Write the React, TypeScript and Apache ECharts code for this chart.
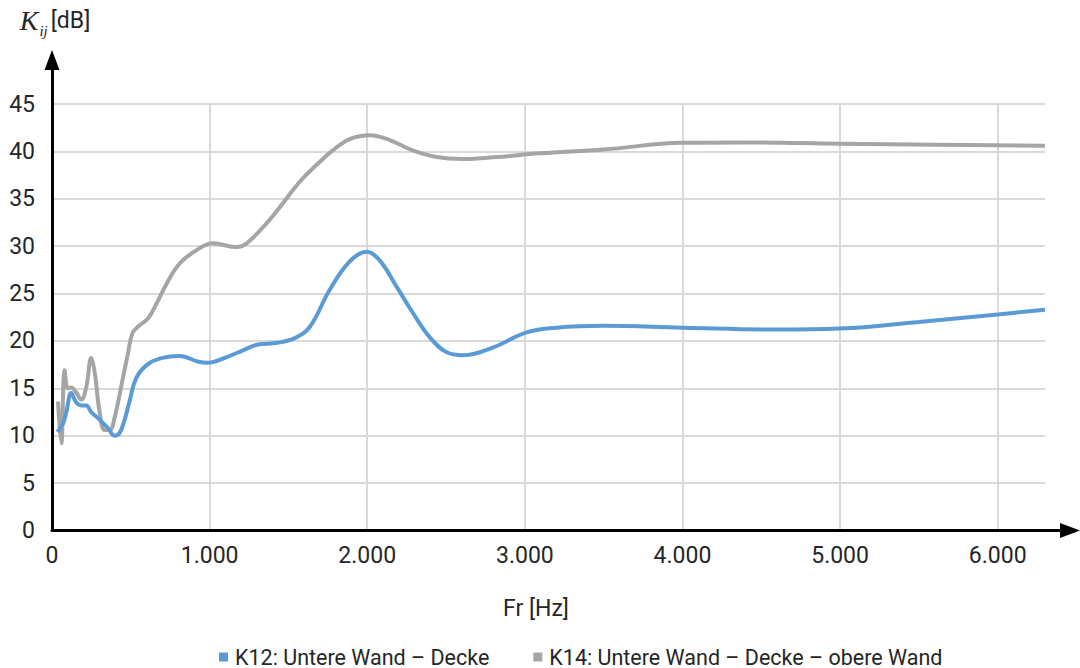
import React, { useEffect, useRef } from "react";
import * as echarts from "echarts";

// K12: Untere Wand – Decke
const k12Hz = [34, 70, 91, 122, 154, 186, 217, 249, 302, 355, 397, 429, 461, 490, 538, 621, 729, 811, 930, 990, 1109, 1211, 1300, 1430, 1540, 1636, 1762, 1889, 1997, 2079, 2187, 2288, 2396, 2504, 2605, 2796, 3011, 3200, 3500, 4000, 4600, 5000, 5500, 6000, 6300];
const k12Db = [10.4, 11.3, 12.5, 14.5, 13.5, 13.2, 13.2, 12.5, 11.7, 10.8, 10.0, 10.3, 11.7, 13.5, 16.2, 17.7, 18.3, 18.4, 17.8, 17.7, 18.3, 19.0, 19.6, 19.8, 20.3, 21.5, 25.4, 28.4, 29.4, 28.5, 25.7, 23.0, 20.4, 18.8, 18.5, 19.3, 20.9, 21.4, 21.6, 21.4, 21.2, 21.3, 22.0, 22.8, 23.3];

// K14: Untere Wand – Decke – obere Wand
const k14Hz = [38, 59, 80, 101, 122, 152, 186, 217, 249, 271, 302, 334, 366, 397, 450, 482, 510, 545, 610, 665, 729, 811, 919, 1021, 1173, 1236, 1382, 1445, 1572, 1680, 1781, 1889, 2016, 2143, 2288, 2441, 2605, 2821, 3093, 3500, 4000, 4400, 5000, 5600, 6300];
const k14Db = [13.6, 9.2, 16.9, 15.0, 15.1, 14.6, 13.8, 15.1, 18.2, 16.7, 12.5, 10.6, 10.6, 11.9, 16.1, 18.7, 20.8, 21.5, 22.4, 24.0, 26.1, 28.2, 29.6, 30.3, 29.9, 30.3, 32.8, 34.1, 36.8, 38.6, 40.1, 41.3, 41.7, 41.2, 40.1, 39.4, 39.2, 39.4, 39.8, 40.2, 40.9, 40.95, 40.8, 40.7, 40.6];

const seriesNames = ["K12: Untere Wand – Decke", "K14: Untere Wand – Decke – obere Wand"];
const seriesColors = ["#5b9bd5", "#a5a5a5"];

const xMax = 6300;
const xInterval = 1000;
const yMax = 45;
const yInterval = 5;
const xAxisTitle = "Fr [Hz]";

const FONT = "Roboto";
const TEXT = "#262626";

function fmtThousands(v: number): string {
  return String(v).replace(/\B(?=(\d{3})+(?!\d))/g, ".");
}

export default function App() {
  const ref = useRef<HTMLDivElement>(null);
  useEffect(() => {
    if (!ref.current) return;
    const chart = echarts.init(ref.current, undefined, { renderer: "svg" });
    const zip = (xs: number[], ys: number[]) => xs.map((x, i) => [x, ys[i]]);
    chart.setOption({
      animation: false,
      backgroundColor: "#ffffff",
      textStyle: { fontFamily: FONT, color: TEXT },
      grid: [
        { left: 52, top: 104, right: 35, bottom: 137.5 },
        { left: 52, top: 60, right: 10, bottom: 137.5 },
      ],
      legend: {
        left: 214,
        top: 640,
        icon: "rect",
        itemWidth: 9,
        itemHeight: 9,
        itemGap: 44,
        textStyle: { fontFamily: FONT, fontSize: 21.5, lineHeight: 24, color: TEXT, padding: [0, 0, 0, 2] },
        data: seriesNames,
      },
      xAxis: [
        {
          type: "value",
          gridIndex: 0,
          min: 0,
          max: xMax,
          interval: xInterval,
          axisLine: { show: false },
          axisTick: { show: false },
          axisLabel: {
            fontFamily: FONT,
            fontSize: 23,
            color: TEXT,
            margin: 13,
            showMaxLabel: false,
            formatter: (v: number) => (v > 6000 ? "" : fmtThousands(v)),
          },
          splitLine: {
            show: true,
            showMinLine: false,
            showMaxLine: false,
            lineStyle: { color: "#d9d9d9", width: 2 },
          },
          name: xAxisTitle,
          nameLocation: "middle",
          nameGap: 66,
          nameTextStyle: { fontFamily: FONT, fontSize: 23, color: TEXT, padding: [0, 25, 0, 0] },
        },
        {
          type: "value",
          gridIndex: 1,
          min: 0,
          max: 1,
          axisLine: {
            show: true,
            symbol: ["none", "triangle"],
            symbolSize: [15, 20],
            lineStyle: { color: "#000000", width: 3 },
          },
          axisTick: { show: false },
          axisLabel: { show: false },
          splitLine: { show: false },
        },
      ],
      yAxis: [
        {
          type: "value",
          gridIndex: 0,
          min: 0,
          max: yMax,
          interval: yInterval,
          axisLine: { show: false },
          axisTick: { show: false },
          axisLabel: { fontFamily: FONT, fontSize: 23, color: TEXT, margin: 17 },
          splitLine: {
            show: true,
            showMinLine: false,
            lineStyle: { color: "#d9d9d9", width: 2 },
          },
        },
        {
          type: "value",
          gridIndex: 1,
          min: 0,
          max: 1,
          axisLine: {
            show: true,
            symbol: ["none", "triangle"],
            symbolSize: [15, 20],
            lineStyle: { color: "#000000", width: 3 },
          },
          axisTick: { show: false },
          axisLabel: { show: false },
          splitLine: { show: false },
          name: "{k|K}{s|ij}{u|[dB]}",
          nameLocation: "end",
          nameGap: 22,
          nameTextStyle: {
            padding: [0, 0, 0, 6],
            rich: {
              k: {
                fontFamily: "Liberation Serif",
                fontStyle: "italic",
                fontSize: 28,
                color: TEXT,
                lineHeight: 36,
                verticalAlign: "middle",
              },
              s: {
                fontFamily: "Liberation Serif",
                fontStyle: "italic",
                fontSize: 15,
                color: TEXT,
                lineHeight: 16,
                verticalAlign: "bottom",
                padding: [0, 3, 0, 1],
              },
              u: {
                fontFamily: FONT,
                fontSize: 23,
                color: TEXT,
                lineHeight: 36,
                verticalAlign: "middle",
              },
            },
          },
        },
      ],
      series: [
        {
          name: seriesNames[0],
          type: "line",
          xAxisIndex: 0,
          yAxisIndex: 0,
          data: zip(k12Hz, k12Db),
          smooth: 0.4,
          showSymbol: false,
          color: seriesColors[0],
          lineStyle: { width: 4, color: seriesColors[0] },
          z: 3,
        },
        {
          name: seriesNames[1],
          type: "line",
          xAxisIndex: 0,
          yAxisIndex: 0,
          data: zip(k14Hz, k14Db),
          smooth: 0.4,
          showSymbol: false,
          color: seriesColors[1],
          lineStyle: { width: 4, color: seriesColors[1] },
          z: 2,
        },
      ],
    });
    return () => chart.dispose();
  }, []);
  return (
    <div
      ref={ref}
      style={{ position: "fixed", left: 0, top: 0, width: 1080, height: 668 }}
    />
  );
}
